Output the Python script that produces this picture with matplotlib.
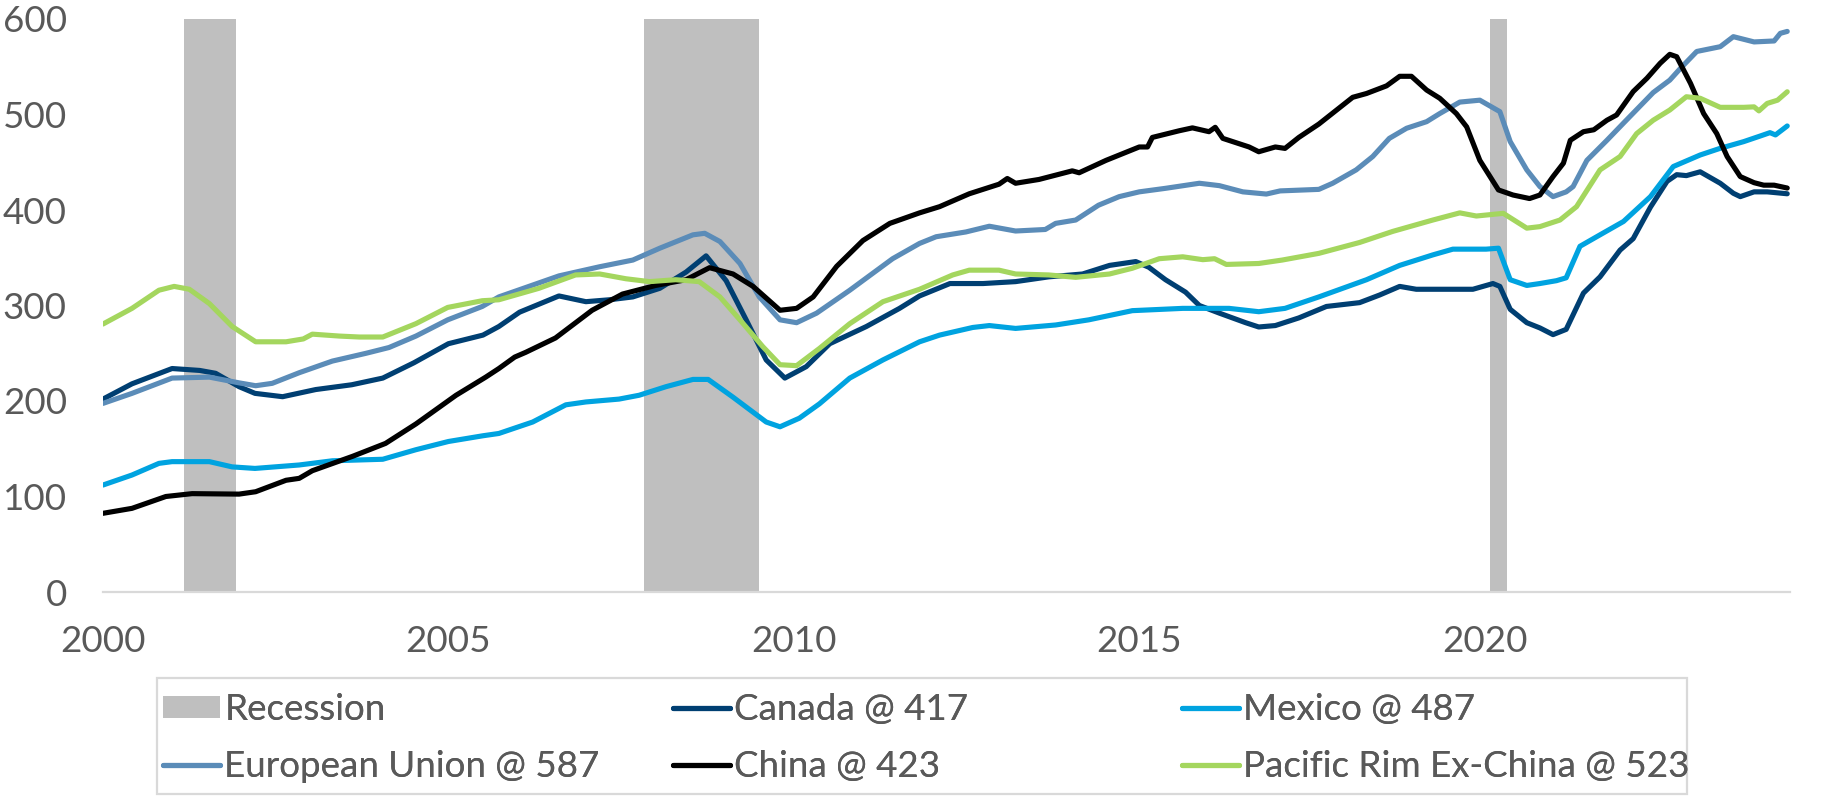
"""Import volumes by trading partner, 2000-2024, with recession shading."""

import matplotlib

matplotlib.use("Agg")
import matplotlib.pyplot as plt  # noqa: E402
from matplotlib.lines import Line2D  # noqa: E402
from matplotlib.patches import Patch, Rectangle  # noqa: E402

C_CANADA = "#003f72"
C_MEXICO = "#00a3e0"
C_EU = "#5b8cb8"
C_CHINA = "#000000"
C_PACRIM = "#a4d65e"
C_REC = "#bfbfbf"
C_TEXT = "#595959"
C_AXIS = "#d9d9d9"
FS = 26.5

plt.rcParams.update({"font.family": ["Lato", "DejaVu Sans"], "font.size": FS})

# --- data --------------------------------------------------------------------

rec_start = [2001.17, 2007.83, 2020.08]
rec_end = [2001.92, 2009.50, 2020.33]

canada_t = [2000.00, 2000.42, 2001.00, 2001.40, 2001.63, 2001.97, 2002.20, 2002.60, 2003.08,
            2003.60, 2004.05, 2004.50, 2005.00, 2005.50, 2005.73, 2006.03, 2006.60, 2006.99,
            2007.33, 2007.67, 2008.06, 2008.44, 2008.73, 2009.02, 2009.31, 2009.60, 2009.87,
            2010.18, 2010.52, 2011.05, 2011.53, 2011.82, 2012.26, 2012.74, 2013.21, 2013.69,
            2014.18, 2014.57, 2014.95, 2015.14, 2015.38, 2015.67, 2015.87, 2016.16, 2016.54,
            2016.73, 2016.97, 2017.31, 2017.71, 2018.19, 2018.48, 2018.77, 2019.01, 2019.49,
            2019.83, 2020.12, 2020.22, 2020.37, 2020.61, 2020.80, 2020.99, 2021.18, 2021.43,
            2021.67, 2021.96, 2022.15, 2022.40, 2022.64, 2022.78, 2022.92, 2023.12, 2023.41,
            2023.60, 2023.70, 2023.90, 2024.09, 2024.38]
canada_v = [202, 218, 234, 232, 229, 215, 208, 204.5, 212,
            217, 224, 240, 260, 269, 278, 293, 310, 304,
            306, 309, 318, 335, 352, 326, 285, 243, 224,
            236, 260, 278, 297, 310, 323, 323, 325, 330,
            333, 342, 346, 340, 327, 314, 300, 292, 282,
            277.5, 279, 287, 299, 303, 311, 320, 317, 317,
            317, 323, 320, 296, 282, 276.5, 269.5, 275, 313,
            330, 358, 370, 403, 430, 437, 436, 440, 428,
            417.5, 414, 419, 419, 417]

mexico_t = [2000.00, 2000.42, 2000.81, 2001.00, 2001.54, 2001.87, 2002.20, 2002.84, 2003.32,
            2004.05, 2004.53, 2005.00, 2005.50, 2005.73, 2006.22, 2006.70, 2006.99, 2007.47,
            2007.76, 2008.15, 2008.54, 2008.76, 2009.12, 2009.60, 2009.80, 2010.08, 2010.37,
            2010.81, 2011.29, 2011.82, 2012.11, 2012.59, 2012.83, 2013.21, 2013.79, 2014.27,
            2014.90, 2015.63, 2016.30, 2016.73, 2017.11, 2017.60, 2018.29, 2018.77, 2019.25,
            2019.54, 2020.02, 2020.20, 2020.37, 2020.61, 2020.80, 2021.04, 2021.18, 2021.38,
            2021.67, 2022.01, 2022.40, 2022.73, 2023.12, 2023.41, 2023.75, 2023.99, 2024.13,
            2024.21, 2024.38]
mexico_v = [112, 122.5, 134.7, 136.5, 136.5, 131, 129.4, 133, 137.4,
            139, 149, 157.6, 163.6, 166, 178, 196, 199, 202,
            206, 215, 222.6, 222.6, 204, 178, 173, 182, 197,
            224, 243, 262, 269, 277, 279, 276, 279.6, 285,
            294.6, 297, 297, 293.5, 297, 309, 327, 342, 353,
            359, 359, 360, 327, 321, 323, 326, 329, 362,
            374, 388, 414, 445.5, 457.6, 464.6, 471.6, 477.5, 481,
            478.6, 488]

eu_t = [2000.00, 2000.42, 2001.00, 2001.54, 2001.97, 2002.21, 2002.45, 2002.84, 2003.32,
        2003.81, 2004.14, 2004.53, 2004.99, 2005.49, 2005.73, 2006.60, 2007.19, 2007.67,
        2008.06, 2008.54, 2008.71, 2008.93, 2009.22, 2009.50, 2009.80, 2010.04, 2010.33,
        2010.81, 2011.43, 2011.82, 2012.06, 2012.49, 2012.83, 2013.21, 2013.64, 2013.79,
        2014.08, 2014.41, 2014.71, 2015.00, 2015.38, 2015.87, 2016.16, 2016.50, 2016.84,
        2017.04, 2017.60, 2017.80, 2018.14, 2018.38, 2018.62, 2018.87, 2019.16, 2019.35,
        2019.64, 2019.93, 2020.22, 2020.37, 2020.61, 2020.80, 2020.99, 2021.18, 2021.28,
        2021.48, 2021.77, 2022.01, 2022.44, 2022.68, 2022.83, 2023.07, 2023.41, 2023.60,
        2023.90, 2024.19, 2024.28, 2024.38]
eu_v = [197.5, 208, 224, 225, 219, 216, 218.5, 229.6, 241.8,
        250, 256, 268, 285, 299, 309, 331, 340.6, 347.6,
        360, 374, 375.6, 367, 344, 309, 285, 282, 292,
        316, 349, 365, 372, 377, 383, 378, 379.6, 386,
        389.5, 405, 414, 419, 422.7, 428, 425.5, 419, 416.7,
        420, 421.6, 428, 442, 456, 475, 485.6, 492.5, 501,
        513, 515, 503, 471.6, 442, 424.5, 414, 419, 424.5,
        452, 473, 491, 523, 536, 548, 566, 571, 581.5,
        576, 577, 585, 587]

china_t = [2000.00, 2000.42, 2000.91, 2001.29, 2001.97, 2002.21, 2002.65, 2002.84, 2003.03,
           2003.61, 2004.09, 2004.53, 2005.11, 2005.54, 2005.73, 2005.96, 2006.12, 2006.55,
           2007.08, 2007.52, 2008.00, 2008.44, 2008.78, 2009.12, 2009.41, 2009.80, 2010.04,
           2010.28, 2010.62, 2011.00, 2011.39, 2011.82, 2012.11, 2012.54, 2012.97, 2013.09,
           2013.21, 2013.55, 2014.03, 2014.13, 2014.52, 2015.00, 2015.12, 2015.19, 2015.58,
           2015.77, 2016.01, 2016.10, 2016.21, 2016.59, 2016.73, 2016.97, 2017.11, 2017.31,
           2017.60, 2018.09, 2018.29, 2018.58, 2018.77, 2018.94, 2019.16, 2019.35, 2019.59,
           2019.74, 2019.93, 2020.20, 2020.41, 2020.65, 2020.80, 2020.99, 2021.14, 2021.24,
           2021.43, 2021.58, 2021.77, 2021.91, 2022.15, 2022.35, 2022.54, 2022.68, 2022.78,
           2022.98, 2023.17, 2023.36, 2023.51, 2023.70, 2023.90, 2024.04, 2024.19, 2024.38]
china_v = [82.4, 87.6, 100, 103, 102.5, 105, 117, 119, 127,
           142, 155.6, 176, 206, 225, 234, 246, 251, 266,
           295, 312, 321, 327, 339.6, 333, 320, 295, 297,
           309, 341, 368, 386, 397, 403.5, 417, 427, 433,
           428, 432, 441, 439, 452, 466, 466, 476, 483,
           486, 482, 486.6, 475, 466, 461, 466, 464.5, 476,
           490, 518, 522, 530, 540, 540, 525.6, 517, 501,
           487, 452, 421, 415.7, 412, 415.7, 435, 449, 473,
           482, 484, 494, 499.5, 524, 538, 553.6, 563, 560.5,
           532.6, 501, 480, 456, 435, 428.6, 426, 426, 423]

pacrim_t = [2000.00, 2000.42, 2000.81, 2001.03, 2001.25, 2001.54, 2001.87, 2002.21, 2002.65,
            2002.90, 2003.03, 2003.42, 2003.71, 2004.05, 2004.53, 2004.99, 2005.49, 2005.73,
            2006.31, 2006.84, 2007.19, 2007.57, 2007.91, 2008.29, 2008.63, 2008.93, 2009.22,
            2009.55, 2009.80, 2010.04, 2010.37, 2010.81, 2011.29, 2011.82, 2012.30, 2012.54,
            2012.97, 2013.21, 2013.69, 2014.08, 2014.57, 2014.90, 2015.29, 2015.63, 2015.92,
            2016.09, 2016.26, 2016.73, 2017.07, 2017.60, 2018.19, 2018.67, 2019.25, 2019.64,
            2019.88, 2020.27, 2020.61, 2020.80, 2021.09, 2021.33, 2021.67, 2021.96, 2022.20,
            2022.44, 2022.68, 2022.92, 2023.12, 2023.41, 2023.75, 2023.90, 2023.97, 2024.09,
            2024.24, 2024.38]
pacrim_v = [280.6, 297, 316, 320, 317, 302, 278, 262, 262,
            265, 270, 268, 267, 267, 281, 298, 305, 306,
            318, 332, 333, 328, 325, 327, 325, 309, 285,
            257, 238, 237, 255, 281, 304, 317, 332, 337,
            337, 333, 332, 329.5, 333, 339, 349, 351, 348,
            349, 343, 344, 347.6, 354.6, 366, 377.6, 389.5, 397,
            393.7, 396.5, 381, 382.6, 389.5, 403.5, 442, 456, 480,
            494, 504.7, 518.6, 517, 507.5, 507.5, 508, 503.8, 511.6,
            515, 523.8]

x_ticks = [2000, 2005, 2010, 2015, 2020]
x_labels = ["2000", "2005", "2010", "2015", "2020"]
y_ticks = [0, 100, 200, 300, 400, 500, 600]

series = [
    ("Canada @ 417", canada_t, canada_v, C_CANADA),
    ("Mexico @ 487", mexico_t, mexico_v, C_MEXICO),
    ("European Union @ 587", eu_t, eu_v, C_EU),
    ("China @ 423", china_t, china_v, C_CHINA),
    ("Pacific Rim Ex-China @ 523", pacrim_t, pacrim_v, C_PACRIM),
]


def main() -> None:
    W, H = 1825, 796
    fig = plt.figure(figsize=(W / 100, H / 100), dpi=100)
    ax = fig.add_axes([103 / W, (H - 592) / H, 1687 / W, (592 - 19) / H])

    for s, e in zip(rec_start, rec_end):
        ax.axvspan(s, e, color=C_REC, lw=0, zorder=0)

    lines = {}
    for label, t, v, c in series:
        (ln,) = ax.plot(t, v, color=c, lw=3.7, solid_capstyle="round", label=label)
        lines[label] = ln

    ax.set_xlim(2000, 2024.42)
    ax.set_ylim(0, 600)
    ax.set_xticks(x_ticks)
    ax.set_xticklabels(x_labels)
    ax.set_yticks(y_ticks)
    for side in ("top", "right", "left"):
        ax.spines[side].set_visible(False)
    ax.spines["bottom"].set_color(C_AXIS)
    ax.spines["bottom"].set_linewidth(1.6)
    ax.tick_params(axis="x", length=0, pad=24, labelcolor=C_TEXT, labelsize=FS)
    ax.tick_params(axis="y", length=0, pad=26, labelcolor=C_TEXT, labelsize=FS)

    # legend: three equal-width columns inside one light frame (Excel style)
    fig.add_artist(Rectangle((157 / W, 2 / H), 1530 / W, 116 / H, transform=fig.transFigure,
                             fill=False, edgecolor=C_AXIS, lw=1.6))
    rec_patch = Patch(facecolor=C_REC, edgecolor="none")
    columns = [
        [(rec_patch, "Recession"), (lines["European Union @ 587"], "European Union @ 587")],
        [(lines["Canada @ 417"], "Canada @ 417"), (lines["China @ 423"], "China @ 423")],
        [(lines["Mexico @ 487"], "Mexico @ 487"),
         (lines["Pacific Rim Ex-China @ 523"], "Pacific Rim Ex-China @ 523")],
    ]
    for x0, col in zip([163, 673, 1182], columns):
        handles = [h if not isinstance(h, Line2D) else Line2D([], [], color=h.get_color(), lw=3.7,
                                                             solid_capstyle="round")
                   for h, _ in col]
        leg = fig.legend(handles, [lab for _, lab in col], loc="upper left",
                         bbox_to_anchor=(x0 / W, (H - 693) / H), frameon=False,
                         borderpad=0, borderaxespad=0, handlelength=1.55, handleheight=0.56,
                         handletextpad=0.12, labelspacing=0.66, fontsize=FS,
                         labelcolor=C_TEXT)
        fig.add_artist(leg)

    fig.savefig("out.png", dpi=100)
    plt.close(fig)


if __name__ == "__main__":
    main()
